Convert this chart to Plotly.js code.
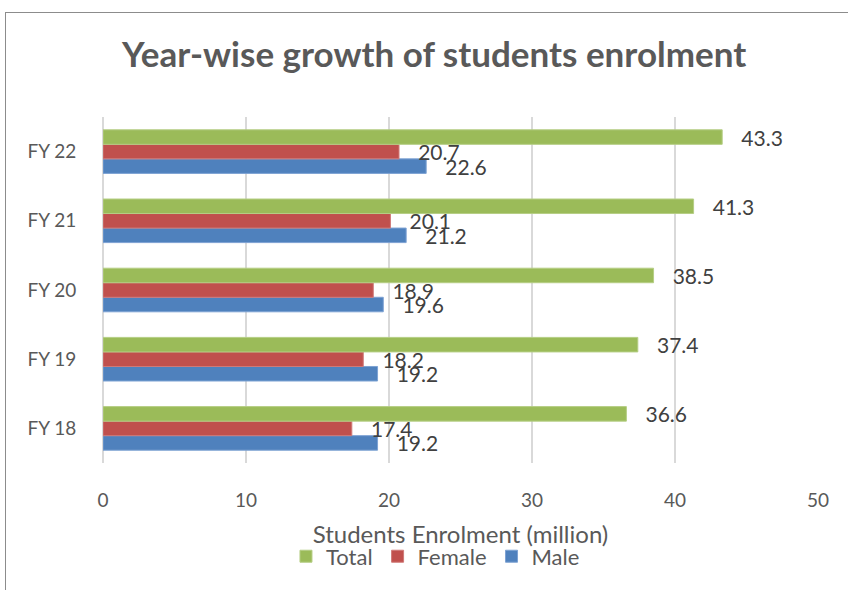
<!DOCTYPE html>
<html>
<head>
<meta charset="utf-8">
<script src="https://cdn.plot.ly/plotly-3.0.1.min.js"></script>
<style>
  html, body { margin: 0; padding: 0; background: #fff; }
  #wrap { position: relative; width: 848px; height: 590px; overflow: hidden; }
  #chart { position: absolute; left: 0; top: 0; width: 848px; height: 590px; }
  #frame { position: absolute; left: 5px; top: 12px; width: 900px; height: 700px;
           border-left: 1.5px solid #8c8c8c; border-top: 1.5px solid #8c8c8c; pointer-events: none; }
</style>
</head>
<body>
<div id="wrap">
  <div id="chart"></div>
  <div id="frame"></div>
</div>
<script>
const categories = ['FY 18', 'FY 19', 'FY 20', 'FY 21', 'FY 22'];
const male = [19.2, 19.2, 19.6, 21.2, 22.6];
const female = [17.4, 18.2, 18.9, 20.1, 20.7];
const total = [36.6, 37.4, 38.5, 41.3, 43.3];

const FONT = 'Lato, "Open Sans", sans-serif';
const TXT = '#404040';
const PAD = '\u00a0\u00a0\u00a0';

function series(name, vals, color, line) {
  return {
    type: 'bar', orientation: 'h', name: name,
    y: categories, x: vals,
    text: vals.map(v => PAD + v.toFixed(1)),
    textposition: 'outside',
    constraintext: 'none',
    cliponaxis: false,
    textfont: { family: FONT, size: 21, color: TXT },
    marker: { color: color, line: { color: line, width: 1 } },
    hoverinfo: 'x+name'
  };
}

const data = [
  series('Male', male, '#4F81BD', '#7da2d3'),
  series('Female', female, '#C0504D', '#d07a78'),
  series('Total', total, '#9BBB59', '#b5ce85')
];

const layout = {
  width: 848, height: 590,
  margin: { l: 103, r: 30, t: 117, b: 122 },
  paper_bgcolor: '#ffffff', plot_bgcolor: '#ffffff',
  barmode: 'group', bargap: 0.37, bargroupgap: 0,
  title: {
    text: 'Year-wise growth of students enrolment',
    x: 0.512, xanchor: 'center', y: 0.907, yanchor: 'middle',
    font: { family: FONT, size: 35, color: '#595959', weight: 'bold' }
  },
  xaxis: {
    range: [0, 50], dtick: 10, tick0: 0,
    showgrid: true, gridcolor: '#D9D9D9', gridwidth: 1.3,
    zeroline: true, zerolinecolor: '#D9D9D9', zerolinewidth: 1.3,
    showline: false,
    ticks: 'outside', ticklen: 20, tickcolor: 'rgba(0,0,0,0)',
    tickfont: { family: FONT, size: 19, color: '#595959' },
    title: { text: 'Students Enrolment (million)', standoff: 16,
             font: { family: FONT, size: 24, color: '#595959' } },
    fixedrange: true
  },
  yaxis: {
    type: 'category',
    showgrid: false, showline: false, zeroline: false,
    ticks: 'outside', ticklen: 22, tickcolor: 'rgba(0,0,0,0)',
    tickfont: { family: FONT, size: 19, color: '#595959' },
    fixedrange: true
  },
  showlegend: true,
  legend: {
    orientation: 'h', traceorder: 'reversed',
    x: 0.465, xanchor: 'center', y: -0.27, yanchor: 'middle',
    font: { family: FONT, size: 22, color: '#595959' },
    itemwidth: 30, bgcolor: 'rgba(0,0,0,0)'
  }
};

Plotly.newPlot('chart', data, layout, { displayModeBar: false, staticPlot: true });
</script>
</body>
</html>
